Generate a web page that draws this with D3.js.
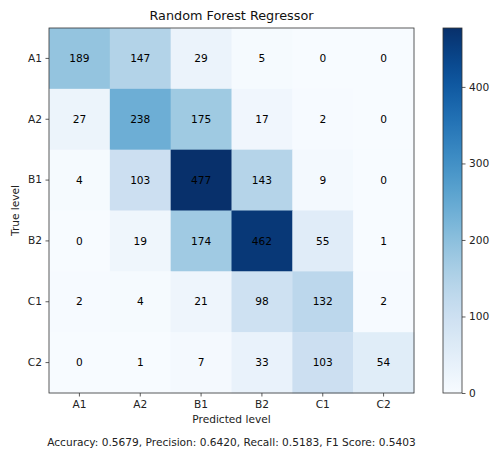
<!DOCTYPE html>
<html>
<head>
<meta charset="utf-8">
<script src="https://cdn.jsdelivr.net/npm/d3@7"></script>
<style>
body { margin: 0; background: #fff; }
svg { font-family: "DejaVu Sans", sans-serif; }
</style>
</head>
<body>
<div id="chart"></div>
<script>
const levels = ["A1", "A2", "B1", "B2", "C1", "C2"];
const rowA1 = [189, 147, 29, 5, 0, 0];
const rowA2 = [27, 238, 175, 17, 2, 0];
const rowB1 = [4, 103, 477, 143, 9, 0];
const rowB2 = [0, 19, 174, 462, 55, 1];
const rowC1 = [2, 4, 21, 98, 132, 2];
const rowC2 = [0, 1, 7, 33, 103, 54];
const colorTicks = [0, 100, 200, 300, 400];
const title = "Random Forest Regressor";
const footer = "Accuracy: 0.5679, Precision: 0.6420, Recall: 0.5183, F1 Score: 0.5403";

const rows = [rowA1, rowA2, rowB1, rowB2, rowC1, rowC2];
const cells = [];
rows.forEach((r, i) => r.forEach((v, j) => cells.push({ t: levels[i], p: levels[j], v: v })));

const width = 490, height = 450;
const mLeft = 49, mTop = 28, size = 365;
const fs = 10.6;
const vmax = d3.max(cells, d => d.v);

const svg = d3.select("#chart").append("svg")
  .attr("width", width)
  .attr("height", height);

const x = d3.scaleBand().domain(levels).range([mLeft, mLeft + size]);
const y = d3.scaleBand().domain(levels).range([mTop, mTop + size]);
const color = d3.scaleSequential(d3.interpolateBlues).domain([0, vmax]);

// heatmap cells
svg.append("g").selectAll("rect")
  .data(cells)
  .enter()
  .append("rect")
  .attr("x", d => x(d.p))
  .attr("y", d => y(d.t))
  .attr("width", x.bandwidth() + 0.5)
  .attr("height", y.bandwidth() + 0.5)
  .attr("fill", d => color(d.v));

svg.append("g").selectAll("text")
  .data(cells)
  .enter()
  .append("text")
  .attr("x", d => x(d.p) + x.bandwidth() / 2)
  .attr("y", d => y(d.t) + y.bandwidth() / 2)
  .attr("dy", "0.35em")
  .attr("text-anchor", "middle")
  .attr("font-size", fs)
  .attr("fill", "#000")
  .text(d => d.v);

// frame
svg.append("rect")
  .attr("x", mLeft).attr("y", mTop)
  .attr("width", size).attr("height", size)
  .attr("fill", "none")
  .attr("stroke", "#333")
  .attr("stroke-width", 0.8);

const bottomAxis = d3.axisBottom(x).tickSize(3.5).tickPadding(3.5);
const leftAxis = d3.axisLeft(y).tickSize(3.5).tickPadding(3.5);

const gx = svg.append("g")
  .attr("transform", `translate(0,${mTop + size})`)
  .call(bottomAxis);
const gy = svg.append("g")
  .attr("transform", `translate(${mLeft},0)`)
  .call(leftAxis);
[gx, gy].forEach(g => {
  g.select(".domain").remove();
  g.selectAll("line").attr("stroke", "#333").attr("stroke-width", 0.8);
  g.selectAll("text").attr("font-size", fs).attr("fill", "#222")
    .attr("font-family", "DejaVu Sans, sans-serif");
});

// titles
svg.append("text")
  .attr("x", mLeft + size / 2).attr("y", 20)
  .attr("text-anchor", "middle")
  .attr("font-size", 12.8)
  .attr("fill", "#111")
  .text(title);

svg.append("text")
  .attr("x", mLeft + size / 2).attr("y", 423)
  .attr("text-anchor", "middle")
  .attr("font-size", fs)
  .attr("fill", "#222")
  .text("Predicted level");

svg.append("text")
  .attr("transform", `translate(19,${mTop + size / 2}) rotate(-90)`)
  .attr("text-anchor", "middle")
  .attr("font-size", fs)
  .attr("fill", "#222")
  .text("True level");

svg.append("text")
  .attr("x", mLeft + size / 2).attr("y", 446)
  .attr("text-anchor", "middle")
  .attr("font-size", fs)
  .attr("fill", "#222")
  .text(footer);

// colorbar
const cbX = 443, cbW = 19;
const cbScale = d3.scaleLinear().domain([0, vmax]).range([mTop + size, mTop]);
const defs = svg.append("defs");
const grad = defs.append("linearGradient")
  .attr("id", "cbgrad")
  .attr("x1", 0).attr("y1", 1).attr("x2", 0).attr("y2", 0);
d3.range(0, 1.0001, 0.05).forEach(t => {
  grad.append("stop")
    .attr("offset", t)
    .attr("stop-color", color(t * vmax));
});
svg.append("rect")
  .attr("x", cbX).attr("y", mTop)
  .attr("width", cbW).attr("height", size)
  .attr("fill", "url(#cbgrad)")
  .attr("stroke", "#333")
  .attr("stroke-width", 0.8);

const cbAxis = d3.axisRight(cbScale).tickValues(colorTicks).tickSize(3.5).tickPadding(3.5);
const gc = svg.append("g")
  .attr("transform", `translate(${cbX + cbW},0)`)
  .call(cbAxis);
gc.select(".domain").remove();
gc.selectAll("line").attr("stroke", "#333").attr("stroke-width", 0.8);
gc.selectAll("text").attr("font-size", fs).attr("fill", "#222")
  .attr("font-family", "DejaVu Sans, sans-serif");
</script>
</body>
</html>
